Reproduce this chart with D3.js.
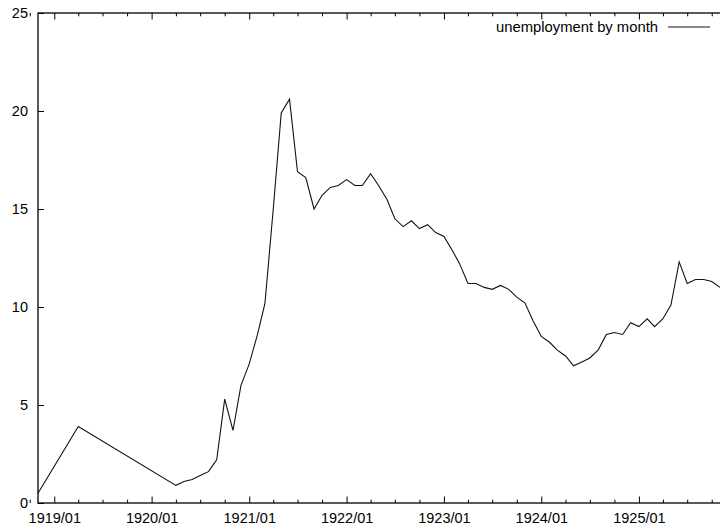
<!DOCTYPE html>
<html>
<head>
<meta charset="utf-8">
<script src="https://cdn.jsdelivr.net/npm/d3@7/dist/d3.min.js"></script>
<style>
  html, body { margin: 0; padding: 0; background: #fff; }
  svg { display: block; font-family: "Liberation Sans", Arial, Helvetica, sans-serif; }
</style>
</head>
<body>
<svg id="chart" width="720" height="527"></svg>
<script>
// Monthly unemployment rate (percent), as year/month keys
const months = [
  "1918/11", "1919/04", "1920/04", "1920/05", "1920/06", "1920/07", "1920/08",
  "1920/09", "1920/10", "1920/11", "1920/12", "1921/01", "1921/02", "1921/03",
  "1921/04", "1921/05", "1921/06", "1921/07", "1921/08", "1921/09", "1921/10",
  "1921/11", "1921/12", "1922/01", "1922/02", "1922/03", "1922/04", "1922/05",
  "1922/06", "1922/07", "1922/08", "1922/09", "1922/10", "1922/11", "1922/12",
  "1923/01", "1923/02", "1923/03", "1923/04", "1923/05", "1923/06", "1923/07",
  "1923/08", "1923/09", "1923/10", "1923/11", "1923/12", "1924/01", "1924/02",
  "1924/03", "1924/04", "1924/05", "1924/06", "1924/07", "1924/08", "1924/09",
  "1924/10", "1924/11", "1924/12", "1925/01", "1925/02", "1925/03", "1925/04",
  "1925/05", "1925/06", "1925/07", "1925/08", "1925/09", "1925/10", "1925/11"
];
const unemployment = [
  0.5, 3.9, 0.9, 1.1, 1.2, 1.4, 1.6,
  2.2, 5.3, 3.7, 6.0, 7.1, 8.6, 10.2,
  15.0, 19.9, 20.6, 16.9, 16.6, 15.0, 15.7,
  16.1, 16.2, 16.5, 16.2, 16.2, 16.8, 16.2,
  15.5, 14.5, 14.1, 14.4, 14.0, 14.2, 13.8,
  13.6, 12.9, 12.2, 11.2, 11.2, 11.0, 10.9,
  11.1, 10.9, 10.5, 10.2, 9.3, 8.5, 8.2,
  7.8, 7.5, 7.0, 7.2, 7.4, 7.8, 8.6,
  8.7, 8.6, 9.2, 9.0, 9.4, 9.0, 9.4,
  10.1, 12.3, 11.2, 11.4, 11.4, 11.3, 11.0
];
const yTicks = [0, 5, 10, 15, 20, 25];
const xRange = ["1918/11", "1925/11"];
const seriesName = "unemployment by month";

const parse = d3.timeParse("%Y/%m");
const fmt = d3.timeFormat("%Y/%m");
const data = months.map((m, i) => ({ date: parse(m), value: unemployment[i] }));

const svg = d3.select("#chart");
const plotLeft = 38, plotTop = 13, plotBottom = 503, plotRight = 732; // plot runs past the view edge

const x = d3.scaleTime().domain(xRange.map(parse)).range([plotLeft, 720]);
const y = d3.scaleLinear().domain([0, 25]).range([plotBottom, plotTop]);

const yearTicks = d3.timeYear.range(parse("1919/01"), parse("1926/01"));
const quarterTicks = d3.timeMonth.every(3).range(parse("1918/10"), parse("1926/01"))
  .filter(d => d.getMonth() !== 0);

const fontSize = 14.5;

// minor (quarterly) ticks, bottom and top
svg.append("g")
  .attr("transform", `translate(0,${plotBottom})`)
  .call(d3.axisBottom(x).tickValues(quarterTicks).tickSize(-3.3).tickFormat(""))
  .call(g => g.select(".domain").remove());
svg.append("g")
  .attr("transform", `translate(0,${plotTop})`)
  .call(d3.axisTop(x).tickValues(quarterTicks).tickSize(-3.3).tickFormat(""))
  .call(g => g.select(".domain").remove());

// major (yearly) ticks with labels
svg.append("g")
  .attr("transform", `translate(0,${plotBottom})`)
  .call(d3.axisBottom(x).tickValues(yearTicks).tickSize(-6.5).tickPadding(10).tickFormat(fmt))
  .call(g => g.select(".domain").remove())
  .call(g => g.selectAll("text").attr("font-size", fontSize).attr("fill", "#000")
    .attr("font-family", "Liberation Sans, Arial, sans-serif"));
svg.append("g")
  .attr("transform", `translate(0,${plotTop})`)
  .call(d3.axisTop(x).tickValues(yearTicks).tickSize(-6.5).tickFormat(""))
  .call(g => g.select(".domain").remove());

// y axis
svg.append("g")
  .attr("transform", `translate(${plotLeft},0)`)
  .call(d3.axisLeft(y).tickValues(yTicks).tickSize(-6).tickPadding(10).tickFormat(d3.format("d")))
  .call(g => g.select(".domain").remove())
  .call(g => g.selectAll("text").attr("font-size", fontSize).attr("fill", "#000")
    .attr("font-family", "Liberation Sans, Arial, sans-serif"));

svg.selectAll(".tick line").attr("stroke", "#000").attr("stroke-width", 1);

// plot border
svg.append("rect")
  .attr("x", plotLeft).attr("y", plotTop)
  .attr("width", plotRight - plotLeft).attr("height", plotBottom - plotTop)
  .attr("fill", "none").attr("stroke", "#000").attr("stroke-width", 1.3);

// series line
const line = d3.line().x(d => x(d.date)).y(d => y(d.value));
svg.append("path")
  .datum(data)
  .attr("d", line)
  .attr("fill", "none")
  .attr("stroke", "#111")
  .attr("stroke-width", 1.1)
  .attr("stroke-linejoin", "miter");

// key
svg.append("text")
  .attr("x", 658).attr("y", 32)
  .attr("text-anchor", "end")
  .attr("font-size", 14.8)
  .attr("fill", "#000")
  .text(seriesName);
svg.append("line")
  .attr("x1", 668).attr("x2", 710)
  .attr("y1", 27).attr("y2", 27)
  .attr("stroke", "#111").attr("stroke-width", 1.1);
</script>
</body>
</html>
